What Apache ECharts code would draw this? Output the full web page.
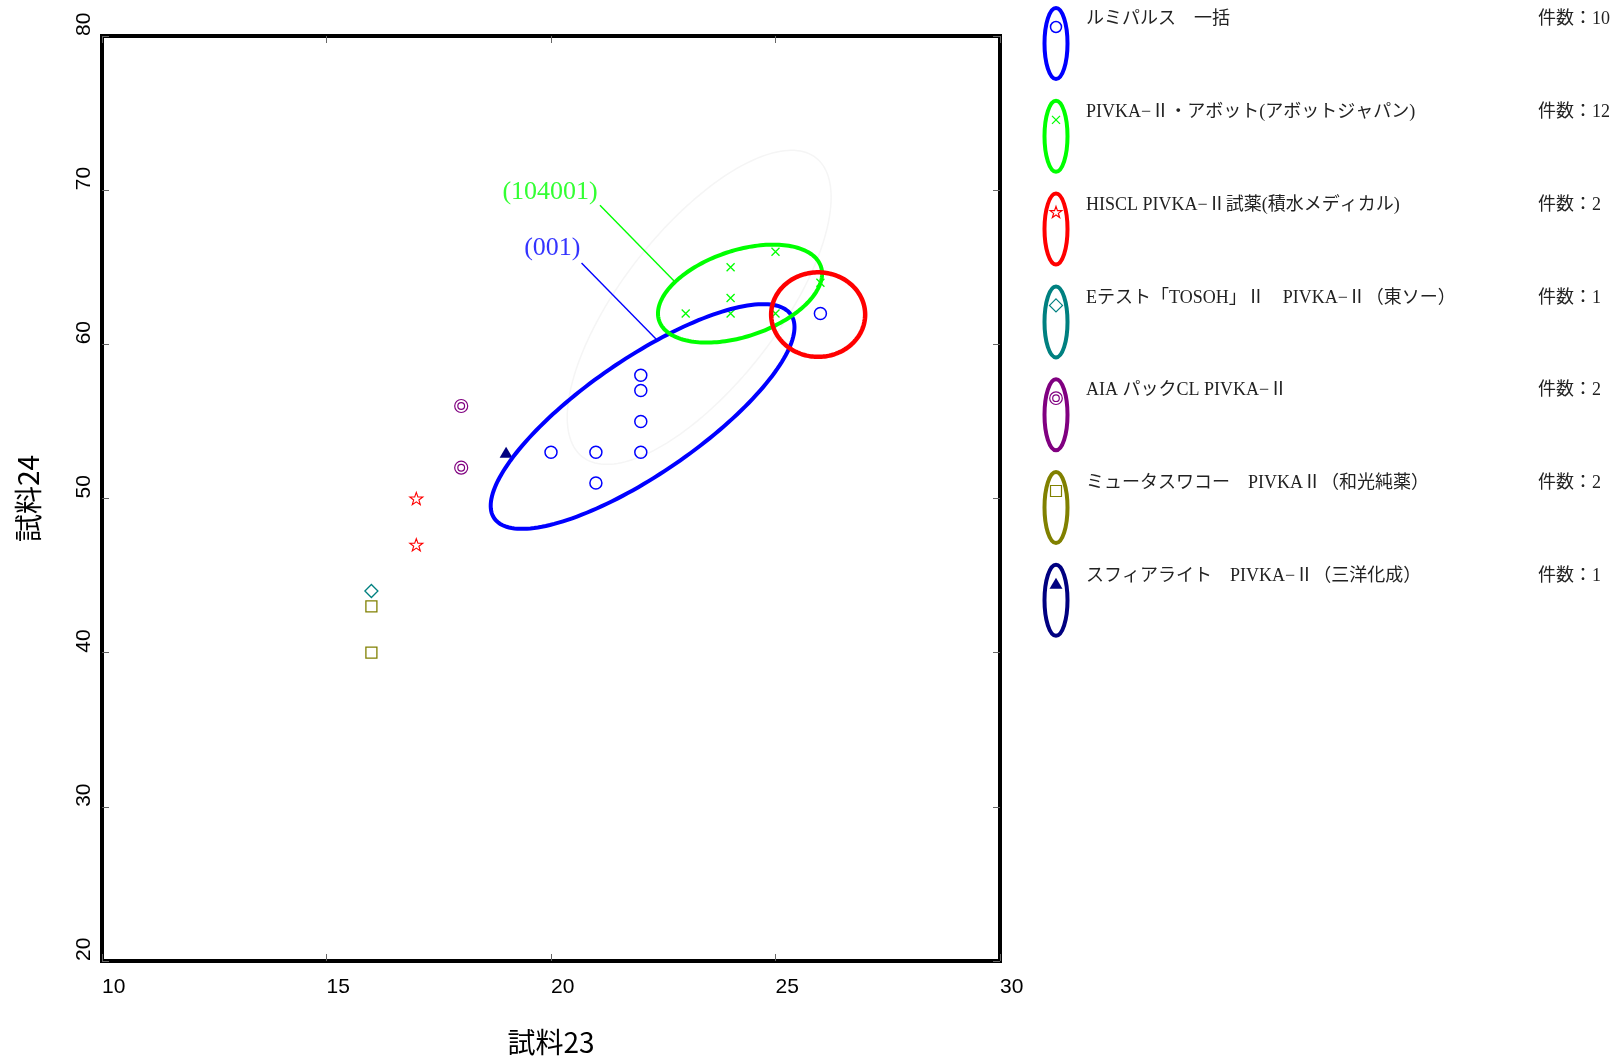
<!DOCTYPE html>
<html>
<head>
<meta charset="utf-8">
<script src="https://cdn.jsdelivr.net/npm/echarts@6/dist/echarts.min.js"></script>
<style>
html,body{margin:0;padding:0;background:#fff;}
#chart{width:1617px;height:1061px;}
</style>
</head>
<body>
<div id="chart"></div>
<script>
// ---------------- data ----------------
const xAxisName = '試料23';
const yAxisName = '試料24';
const xTickValues = [10, 15, 20, 25, 30];
const yTickValues = [20, 30, 40, 50, 60, 70, 80];

const seriesNames = [
  'ルミパルス　一括',
  'PIVKA−Ⅱ・アボット(アボットジャパン)',
  'HISCL PIVKA−Ⅱ試薬(積水メディカル)',
  'Eテスト「TOSOH」Ⅱ　PIVKA−Ⅱ（東ソー）',
  'AIA パックCL PIVKA−Ⅱ',
  'ミュータスワコー　PIVKAⅡ（和光純薬）',
  'スフィアライト　PIVKA−Ⅱ（三洋化成）'
];
const seriesCounts = [10, 12, 2, 1, 2, 2, 1];
const countPrefix = '件数：';

const ptsLumipulse = [[20,53],[21,53],[21,51],[22,58],[22,57],[22,55],[22,53],[26,62]];
const ptsAbbott    = [[23,62],[24,65],[24,63],[24,62],[25,66],[25,62],[26,64]];
const ptsHiscl     = [[17,50],[17,47]];
const ptsTosoh     = [[16,44]];
const ptsAia       = [[18,56],[18,52]];
const ptsWako      = [[16,43],[16,40]];
const ptsSphere    = [[19,53]];

// ellipses: [centerX, centerY, axis1X, axis1Y, axis2X, axis2Y] in data units
const ellipseGrey  = [23.3, 62.4, 2.6, 9.7, -1.37, 3.11];
const ellipseBlue  = [22.04, 55.32, 3.304, 6.607, -0.727, 3.076];
const ellipseGreen = [24.21, 63.29, 1.802, 1.754, -0.305, 2.649];
const ellipseRed   = [25.95, 61.93, 1.047, 0.0, 0.0, 2.741];

// annotation labels and leader lines (data units)
const labelGreen = {text: '(104001)', at: [19.98, 69.9]};
const labelBlue  = {text: '(001)', at: [20.03, 66.25]};
const leaderGreen = [[21.09, 69.02], [22.78, 64.0]];
const leaderBlue  = [[20.68, 65.28], [22.35, 60.31]];

// ---------------- styles ----------------
const colors = ['#0000ff', '#00ff00', '#ff0000', '#008080', '#800080', '#808000', '#000080'];
const symX = 'path://M0,0 L10,10 M10,0 L0,10';
const symStar = 'path://M0,-10 L2.35,-3.24 L9.51,-3.09 L3.8,1.24 L5.88,8.09 L0,4 L-5.88,8.09 L-3.8,1.24 L-9.51,-3.09 L-2.35,-3.24 Z';
const symDiamond = 'path://M0,-10 L10,0 L0,10 L-10,0 Z';
const symDouble = 'path://M10,0 A10,10 0 1,1 -10,0 A10,10 0 1,1 10,0 Z M5.2,0 A5.2,5.2 0 1,1 -5.2,0 A5.2,5.2 0 1,1 5.2,0 Z';
const symSquare = 'path://M0,0 L10,0 L10,10 L0,10 Z';
const symCircle = 'path://M10,0 A10,10 0 1,1 -10,0 A10,10 0 1,1 10,0 Z';

const chart = echarts.init(document.getElementById('chart'), null, {renderer: 'canvas'});

function scatterSeries(name, data, symbol, size, color, width, filled) {
  return {
    type: 'scatter', name: name, data: data, symbol: symbol, symbolSize: size,
    symbolKeepAspect: true, silent: true, z: 3,
    itemStyle: {color: filled ? color : 'rgba(0,0,0,0)', borderColor: color, borderWidth: width, opacity: 1}
  };
}

function ellipseSeries(params, color, width, z) {
  return {
    type: 'custom', silent: true, z: z,
    data: [params],
    dimensions: ['cx','cy','ux','uy','vx','vy'],
    encode: {x: 0, y: 1},
    renderItem: function (p, api) {
      const cx = api.value(0), cy = api.value(1), ux = api.value(2), uy = api.value(3), vx = api.value(4), vy = api.value(5);
      const pts = [];
      for (let k = 0; k < 180; k++) {
        const t = k / 180 * Math.PI * 2;
        pts.push(api.coord([cx + Math.cos(t) * ux + Math.sin(t) * vx, cy + Math.cos(t) * uy + Math.sin(t) * vy]));
      }
      return {type: 'polygon', shape: {points: pts}, style: {fill: 'none', stroke: color, lineWidth: width}};
    }
  };
}

function leaderSeries(pts, color) {
  return {type: 'line', data: pts, symbol: 'none', silent: true, z: 2,
    lineStyle: {color: color, width: 1.4}, animation: false};
}
function labelSeries(lbl, color) {
  return {type: 'scatter', data: [lbl.at], symbolSize: 0, silent: true, z: 4,
    label: {show: true, position: 'inside', formatter: lbl.text, color: color,
      fontFamily: 'Liberation Serif', fontSize: 26}};
}

// ---------------- legend (graphic) ----------------
const legendX = 1056, legendTop = 43.5, legendStep = 92.8;
const graphics = [];
seriesNames.forEach(function (nm, i) {
  const cy = legendTop + legendStep * i;
  const my = cy - 16.5;
  const c = colors[i];
  graphics.push({type: 'ellipse', shape: {cx: legendX, cy: cy, rx: 11.5, ry: 35.5},
    style: {fill: 'none', stroke: c, lineWidth: 4}, silent: true});
  const stroke = {fill: 'none', stroke: c, lineWidth: 1.2};
  if (i === 0) graphics.push({type: 'circle', shape: {cx: legendX, cy: my, r: 5.5}, style: {fill: 'none', stroke: c, lineWidth: 1.5}});
  if (i === 1) {
    graphics.push({type: 'line', shape: {x1: legendX-4, y1: my-4, x2: legendX+4, y2: my+4}, style: stroke});
    graphics.push({type: 'line', shape: {x1: legendX+4, y1: my-4, x2: legendX-4, y2: my+4}, style: stroke});
  }
  if (i === 2) {
    const s = 0.62, pts = [[0,-10],[2.35,-3.24],[9.51,-3.09],[3.8,1.24],[5.88,8.09],[0,4],[-5.88,8.09],[-3.8,1.24],[-9.51,-3.09],[-2.35,-3.24]];
    graphics.push({type: 'polygon', shape: {points: pts.map(function (q) { return [legendX + q[0]*s, my + q[1]*s]; })}, style: stroke});
  }
  if (i === 3) graphics.push({type: 'polygon', shape: {points: [[legendX, my-6.5],[legendX+6.5, my],[legendX, my+6.5],[legendX-6.5, my]]}, style: stroke});
  if (i === 4) {
    graphics.push({type: 'circle', shape: {cx: legendX, cy: my, r: 6.3}, style: stroke});
    graphics.push({type: 'circle', shape: {cx: legendX, cy: my, r: 3.3}, style: stroke});
  }
  if (i === 5) graphics.push({type: 'rect', shape: {x: legendX-5.5, y: my-5.5, width: 11, height: 11}, style: stroke});
  if (i === 6) graphics.push({type: 'polygon', shape: {points: [[legendX, my-6],[legendX+6.5, my+5],[legendX-6.5, my+5]]}, style: {fill: c}});
  const ty = 19.5 + legendStep * i;
  graphics.push({type: 'text', x: 1086, y: ty, silent: true,
    style: {text: nm, fill: '#222', font: '18px "Liberation Serif", "Noto Sans CJK JP", serif', verticalAlign: 'middle', align: 'left'}});
  graphics.push({type: 'text', x: 1538, y: ty, silent: true,
    style: {text: countPrefix + seriesCounts[i], fill: '#222', font: '18px "Liberation Serif", "Noto Sans CJK JP", serif', verticalAlign: 'middle', align: 'left'}});
});

const tickStyle = {show: true, inside: true, length: 7, lineStyle: {color: '#666', width: 1}};
const option = {
  animation: false,
  backgroundColor: '#ffffff',
  grid: {left: 102, top: 36, width: 898, height: 928, show: true, borderColor: '#000', borderWidth: 4, backgroundColor: 'transparent'},
  xAxis: [
    {type: 'value', min: xTickValues[0], max: xTickValues[xTickValues.length-1], interval: 5, position: 'bottom',
     axisLine: {show: false}, axisTick: tickStyle, splitLine: {show: false},
     axisLabel: {show: true, align: 'left', margin: 16, color: '#000', fontSize: 21, fontFamily: 'Liberation Sans'},
     name: xAxisName, nameLocation: 'middle', nameGap: 67,
     nameTextStyle: {fontSize: 28, color: '#000', fontFamily: 'Noto Sans CJK JP'}},
    {type: 'value', min: xTickValues[0], max: xTickValues[xTickValues.length-1], interval: 5, position: 'top',
     axisLine: {show: false}, axisTick: tickStyle, splitLine: {show: false}, axisLabel: {show: false}}
  ],
  yAxis: [
    {type: 'value', min: yTickValues[0], max: yTickValues[yTickValues.length-1], interval: 10, position: 'left',
     axisLine: {show: false}, axisTick: tickStyle, splitLine: {show: false},
     axisLabel: {show: true, rotate: 90, align: 'left', verticalAlign: 'middle', margin: 18, color: '#000', fontSize: 21, fontFamily: 'Liberation Sans'},
     name: yAxisName, nameLocation: 'middle', nameGap: 60, nameRotate: 90,
     nameTextStyle: {fontSize: 28, color: '#000', fontFamily: 'Noto Sans CJK JP'}},
    {type: 'value', min: yTickValues[0], max: yTickValues[yTickValues.length-1], interval: 10, position: 'right',
     axisLine: {show: false}, axisTick: tickStyle, splitLine: {show: false}, axisLabel: {show: false}}
  ],
  graphic: graphics,
  series: [
    ellipseSeries(ellipseGrey, '#f5f5f5', 1.5, 1),
    leaderSeries(leaderGreen, colors[1]),
    leaderSeries(leaderBlue, colors[0]),
    scatterSeries(seriesNames[0], ptsLumipulse, symCircle, 12, colors[0], 1.5, false),
    scatterSeries(seriesNames[1], ptsAbbott, symX, 8, colors[1], 1.3, false),
    scatterSeries(seriesNames[2], ptsHiscl, symStar, 13, colors[2], 1.1, false),
    scatterSeries(seriesNames[3], ptsTosoh, symDiamond, 13, colors[3], 1.3, false),
    scatterSeries(seriesNames[4], ptsAia, symDouble, 13, colors[4], 1.2, false),
    scatterSeries(seriesNames[5], ptsWako, symSquare, 11, colors[5], 1.3, false),
    scatterSeries(seriesNames[6], ptsSphere, 'triangle', [13, 11], colors[6], 0, true),
    ellipseSeries(ellipseBlue, colors[0], 4, 5),
    ellipseSeries(ellipseGreen, colors[1], 4, 5),
    ellipseSeries(ellipseRed, colors[2], 4.5, 5),
    labelSeries(labelGreen, colors[1]),
    labelSeries(labelBlue, colors[0])
  ]
};
chart.setOption(option);
</script>
</body>
</html>
